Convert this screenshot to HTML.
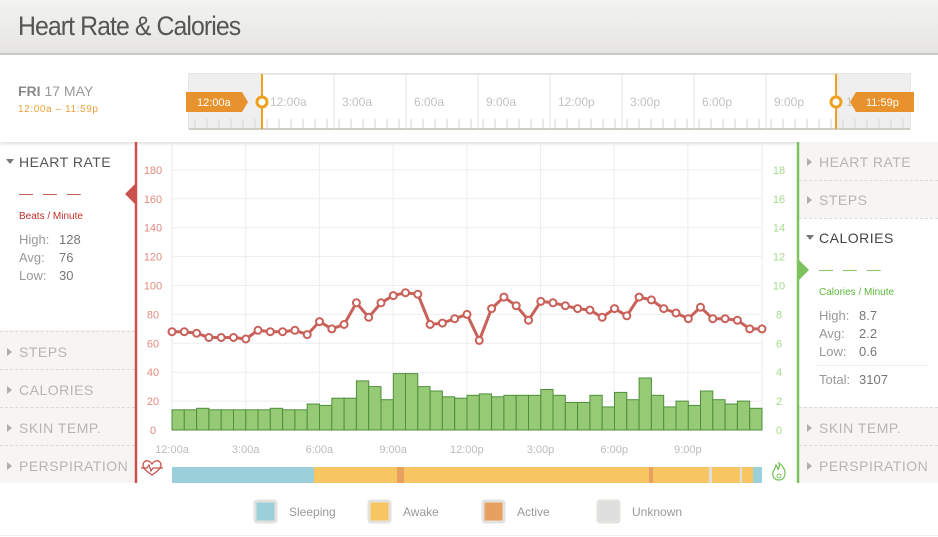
<!DOCTYPE html>
<html><head><meta charset="utf-8">
<style>
*{margin:0;padding:0;box-sizing:border-box}
body{width:938px;height:537px;overflow:hidden;background:#fff;font-family:"Liberation Sans",sans-serif;position:relative}
.hdr{position:absolute;left:0;top:0;width:938px;height:55px;background:linear-gradient(#f3f3f1,#e6e5e1);border-bottom:2px solid #c9c9c6}
.hdr h1{position:absolute;left:18px;top:11px;font-weight:normal;font-size:27px;color:#555;letter-spacing:-1px;transform:scaleX(.92);transform-origin:left}
.abs{position:absolute}
.it{position:absolute;font-size:14px;color:#b8b4b4;letter-spacing:.5px}
.it:before{content:"";position:absolute;left:-12px;top:4px;border-left:5px solid #b0aca8;border-top:4px solid transparent;border-bottom:4px solid transparent}
.grey{position:absolute;background:#f6f5f3}
.dash{position:absolute;height:0;border-top:1px dashed #dcdad6}
.st{position:absolute;font-size:13px;color:#777}
</style></head><body>
<div class="hdr"><h1>Heart Rate &amp; Calories</h1></div>
<div class="abs" style="left:0;top:57px;width:938px;height:85px;background:#fff;box-shadow:0 2px 3px rgba(0,0,0,.12)"></div>
<div class="abs" style="left:18px;top:83px;font-size:14px;color:#999"><b style="color:#8a8a8a">FRI</b> 17 MAY</div>
<div class="abs" style="left:18px;top:104px;font-size:10px;color:#e8a23a;letter-spacing:.6px">12:00a – 11:59p</div>

<div class="grey" style="left:0;top:330px;width:135px;height:153px"></div>
<div class="dash" style="left:0;top:331px;width:135px"></div>
<div class="dash" style="left:0;top:369px;width:135px"></div>
<div class="dash" style="left:0;top:407px;width:135px"></div>
<div class="dash" style="left:0;top:445px;width:135px"></div>
<div class="abs" style="left:6px;top:159px;border-top:5px solid #777;border-left:4px solid transparent;border-right:4px solid transparent"></div>
<div class="abs" style="left:19px;top:154px;font-size:14px;color:#555;letter-spacing:.5px">HEART RATE</div>
<div class="abs" style="left:19px;top:185px;font-size:14px;color:#c0504d;letter-spacing:3px">— — —</div>
<div class="abs" style="left:19px;top:211px;font-size:10px;color:#c0302d">Beats / Minute</div>
<div class="st" style="left:19px;top:232px;color:#999">High:</div><div class="st" style="left:59px;top:232px">128</div>
<div class="st" style="left:19px;top:250px;color:#999">Avg:</div><div class="st" style="left:59px;top:250px">76</div>
<div class="st" style="left:19px;top:268px;color:#999">Low:</div><div class="st" style="left:59px;top:268px">30</div>
<div class="it" style="left:19px;top:344px">STEPS</div>
<div class="it" style="left:19px;top:382px">CALORIES</div>
<div class="it" style="left:19px;top:420px">SKIN TEMP.</div>
<div class="it" style="left:19px;top:458px">PERSPIRATION</div>

<div class="grey" style="left:799px;top:142px;width:139px;height:76px"></div>
<div class="grey" style="left:799px;top:407px;width:139px;height:76px"></div>
<div class="dash" style="left:799px;top:180px;width:139px"></div>
<div class="dash" style="left:799px;top:218px;width:139px"></div>
<div class="dash" style="left:799px;top:407px;width:139px"></div>
<div class="dash" style="left:799px;top:445px;width:139px"></div>
<div class="it" style="left:819px;top:154px">HEART RATE</div>
<div class="it" style="left:819px;top:192px">STEPS</div>
<div class="abs" style="left:806px;top:235px;border-top:5px solid #777;border-left:4px solid transparent;border-right:4px solid transparent"></div>
<div class="abs" style="left:819px;top:230px;font-size:14px;color:#444;letter-spacing:.5px">CALORIES</div>
<div class="abs" style="left:819px;top:261px;font-size:14px;color:#7cc35e;letter-spacing:3px">— — —</div>
<div class="abs" style="left:819px;top:287px;font-size:10px;color:#5cb83a">Calories / Minute</div>
<div class="st" style="left:819px;top:308px;color:#999">High:</div><div class="st" style="left:859px;top:308px">8.7</div>
<div class="st" style="left:819px;top:326px;color:#999">Avg:</div><div class="st" style="left:859px;top:326px">2.2</div>
<div class="st" style="left:819px;top:344px;color:#999">Low:</div><div class="st" style="left:859px;top:344px">0.6</div>
<div class="abs" style="left:816px;top:365px;width:112px;border-top:1px solid #eee"></div>
<div class="st" style="left:819px;top:372px;color:#999">Total:</div><div class="st" style="left:859px;top:372px">3107</div>
<div class="it" style="left:819px;top:420px">SKIN TEMP.</div>
<div class="it" style="left:819px;top:458px">PERSPIRATION</div>

<svg id="s" class="abs" style="left:0;top:0" width="938" height="537" xmlns="http://www.w3.org/2000/svg" font-family="Liberation Sans, sans-serif"></svg>

<div class="abs" style="left:0;top:535px;width:938px;border-top:1px solid #eee"></div>
<script>
var s=document.getElementById('s'),h='';
function R(x,y,w,hh,f,extra){h+='<rect x="'+x+'" y="'+y+'" width="'+w+'" height="'+hh+'" fill="'+f+'" '+(extra||'')+'/>';}
function L(x1,y1,x2,y2,c,w){h+='<line x1="'+x1+'" y1="'+y1+'" x2="'+x2+'" y2="'+y2+'" stroke="'+c+'" stroke-width="'+(w||1)+'"/>';}
function T(x,y,t,c,sz,a){h+='<text x="'+x+'" y="'+y+'" fill="'+c+'" font-size="'+sz+'" text-anchor="'+(a||'start')+'">'+t+'</text>';}
R(189,74,721,55,'#fff','stroke="#d0cec8"');
R(189,74,73,55,'#efefef');R(836,74,74,55,'#efefef');
L(189,129,910,129,'#cfcdc6',2);
var lab=['12:00a','3:00a','6:00a','9:00a','12:00p','3:00p','6:00p','9:00p','12'];
for(var k=0;k<9;k++){var x=262+72*k; if(k>0)L(x,74,x,129,'#e6e5e1'); T(x+8,106,lab[k],'#c4c2be',12);}
for(var x=195;x<910;x+=12){L(x,119,x,128,'#d6d4cf');}
L(262,74,262,129,'#f0a020',2);L(836,74,836,129,'#f0a020',2);
h+='<circle cx="262" cy="102" r="5" fill="#fff" stroke="#f0a020" stroke-width="3"/><circle cx="836" cy="102" r="5" fill="#fff" stroke="#f0a020" stroke-width="3"/>';
h+='<path d="M186 92h56l6 10-6 10h-56z" fill="#e8922e"/><text x="197" y="106" fill="#fff" font-size="11">12:00a</text>';
h+='<path d="M914 92h-58l-6 10 6 10h58z" fill="#e8922e"/><text x="866" y="106" fill="#fff" font-size="11">11:59p</text>';
L(136,142,136,483,'#c9524f',2.5);L(798,142,798,483,'#7cc35e',2.5);
h+='<path d="M135 184l-10 10 10 10z" fill="#c9524f"/><path d="M799 260l10 10-10 10z" fill="#7cc35e"/>';
L(172,142,172,430,'#e8e8e8');L(762,142,762,430,'#e8e8e8');
for(var v=0;v<=180;v+=20){var y=430-v*1.445;L(172,y,762,y,'#eeeeee');T(153,y+4,v,'#e08a7e',11,'middle');T(779,y+4,v/10,'#a6d98c',11,'middle');}
for(var k=1;k<8;k++){var x=172+73.7*k;L(x,142,x,430,'#eeeeee');}
var xl=['12:00a','3:00a','6:00a','9:00a','12:00p','3:00p','6:00p','9:00p'];
for(var k=0;k<8;k++)T(172+73.7*k,453,xl[k],'#bbb',11,'middle');
var bars=[14,14,15,14,14,14,14,14,15,14,14,18,17,22,22,34,30,21,39,39,30,27,23,22,24,25,23,24,24,24,28,24,19,19,24,16,26,21,36,24,16,20,17,27,21,18,20,15];
var bw=(762-172)/48;
for(var i=0;i<48;i++){var y=430-bars[i]*1.445;R((172+i*bw).toFixed(1),y.toFixed(1),bw.toFixed(1),(430-y).toFixed(1),'#97ca75','stroke="#4f8f3c" stroke-width="1"');}
var hr=[68,68,67,64,64,64,63,69,68,68,69,66,75,70,73,88,78,88,93,95,94,73,74,77,80,62,84,92,86,76,89,88,86,84,83,78,84,79,92,90,84,81,77,85,77,77,76,70,70];
var pts=hr.map(function(v,i){return (172+i*bw).toFixed(1)+','+(430-v*1.445).toFixed(1)}).join(' ');
h+='<polyline points="'+pts+'" fill="none" stroke="#c9605a" stroke-width="3" stroke-linejoin="round"/>';
hr.forEach(function(v,i){h+='<circle cx="'+(172+i*bw).toFixed(1)+'" cy="'+(430-v*1.445).toFixed(1)+'" r="3.5" fill="#fff" stroke="#c9605a" stroke-width="2"/>';});
R(172,467,142,16,'#9bcfda');R(314,467,446,16,'#f8c563');R(397,467,7,16,'#e8a060');R(649,467,4,16,'#e8a060');
R(709,467,3,16,'#dedede');R(740,467,2,16,'#dedede');R(753,467,9,16,'#9bcfda');
h+='<path d="M152 475c-4-3-9-6-9-10 0-3 3-5 5-4 2 0 3 2 4 3 1-1 2-3 4-3 2-1 5 1 5 4 0 4-5 7-9 10z" fill="none" stroke="#c9524f" stroke-width="1.3"/><path d="M141 468h6l2-3 2 6 2-3h10" fill="none" stroke="#c9524f" stroke-width="1.2"/>';
h+='<path d="M779 480c-5 0-7-4-6-8 1-3 3-4 3-7 2 2 2 4 2 5 1-2 2-4 1-7 3 2 6 6 6 10 0 4-2 7-6 7z" fill="none" stroke="#7cc35e" stroke-width="1.3"/><circle cx="779" cy="476" r="2" fill="none" stroke="#7cc35e"/>';
var lg=[[255,'#9bcfda','Sleeping',289],[369,'#f8c563','Awake',403],[483,'#e8a060','Active',517],[598,'#dedede','Unknown',632]];
lg.forEach(function(a){R(a[0],501,21,21,a[1],'stroke="#e3e2de" stroke-width="3" rx="2"');T(a[3],516,a[2],'#999',12);});
s.innerHTML=h;
</script>
</body></html>
